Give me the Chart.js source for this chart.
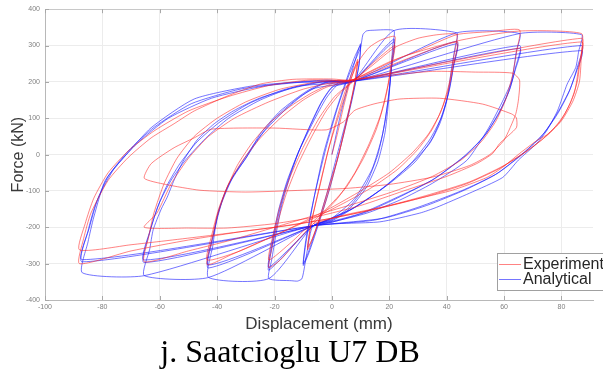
<!DOCTYPE html>
<html>
<head>
<meta charset="utf-8">
<script src="https://cdn.jsdelivr.net/npm/chart.js@4.4.1/dist/chart.umd.min.js"></script>
<style>
  html, body { margin: 0; padding: 0; background: #fff; }
  #wrap { width: 603px; height: 378px; position: relative; }
</style>
</head>
<body>
<div id="wrap"><canvas id="c" width="603" height="378"></canvas></div>
<script>
// ---- DATA (displacement mm, force kN) ----
const seriesNames = ['Experimental', 'Analytical'];
const caption = 'j. Saatcioglu U7 DB';
const xTitle = 'Displacement (mm)';
const yTitle = 'Force (kN)';

// Analytical (blue) path, by amplitude
const ana10 = [[0,0],[3,110],[6,200],[8.5,270],[10,305],
  [9.5,250],[7,150],[3,20],[-1,-100],[-5,-200],[-8,-270],[-10,-305],
  [-9,-240],[-6.5,-130],[-3,0],[1,110],[5,205],[8,270],[10,300],
  [9.3,240],[6.5,140],[2.5,20],[-1.5,-100],[-5.5,-205],[-8.5,-275],[-10,-300],
  [-9,-230],[-6,-110],[-2,20],[2,130],[6,220],[10,295]];
const ana22 = [[10.8,330],[12,340],[14,342],[21.6,341],
  [21.2,300],[20.6,230],[19.8,150],[18.5,60],[16,-20],[12,-90],[6,-150],[0,-180],[-6.6,-196],
  [-8.5,-260],[-9.8,-320],[-10.5,-342],[-12,-348],[-14,-347],[-22,-341],
  [-21,-290],[-19.5,-220],[-17.5,-140],[-15,-70],[-11.5,10],[-7.5,80],[-3.5,145],[0,185],[3,200],[7.4,202],
  [21.6,318],
  [21,260],[20,180],[18.5,90],[16,0],[12,-80],[6,-145],[0,-178],[-6.6,-196],
  [-22,-318],
  [-21,-260],[-19,-180],[-16.5,-100],[-13,-20],[-8.5,65],[-4,140],[0,185],[7.4,202],
  [21.6,310],
  [20.8,240],[19.6,150],[17.5,50],[14,-40],[8,-120],[0,-175],[-6.6,-196],
  [-22,-310],
  [-20.8,-240],[-18.5,-150],[-15.5,-70],[-11.5,10],[-6.5,90],[-2,155],[2,192],[7.4,202]];
const ana43 = [[21.6,341],[43.5,335],
  [42.8,290],[41.7,237],[40,147],[37.6,85],[34,30],[27,-30],[16.7,-98],[6.3,-153],[0,-182],[-6.6,-196],
  [-22,-341],[-43,-338],
  [-41.5,-250],[-40,-172],[-37.5,-110],[-34.5,-60],[-30,-10],[-25,57],[-18,120],[-8.7,175],[-1.7,200],[7.4,202],
  [43.5,312],
  [42.5,250],[41,180],[38.5,110],[35,45],[29,-20],[20,-80],[8,-145],[-6.6,-196],
  [-43,-312],
  [-41.5,-230],[-39.5,-155],[-36.5,-90],[-32.5,-35],[-27,30],[-20,100],[-11,160],[-2,198],[7.4,202],
  [43.5,305],
  [42.3,240],[40.5,165],[38,100],[34,40],[28,-20],[19,-85],[7,-150],[-6.6,-196],
  [-43,-304],
  [-41,-210],[-38.5,-135],[-35,-70],[-30,-10],[-24,60],[-16,125],[-7,180],[7.4,202]];
const ana65 = [[43.5,335],[65.4,333],
  [64.3,284],[62.6,202],[59.5,147],[56,93],[54,65],[47,-16],[35,-79],[23.7,-125],[12.2,-161],[0.3,-185],[-6.6,-196],
  [-43,-338],[-65.4,-333],
  [-63.5,-260],[-62.3,-207],[-59.5,-150],[-57.4,-117],[-55,-70],[-52,-20],[-47,40],[-41,85],[-34.4,120],[-25,156],[-13.6,183],[-1.7,202],[7.4,202],
  [65.4,300],
  [64,240],[62,180],[58.5,120],[54,60],[47,0],[36,-65],[24,-115],[12,-158],[0,-186],[-6.6,-196],
  [-65.4,-297],
  [-63.5,-215],[-61,-150],[-57.5,-85],[-53,-25],[-47,35],[-39,90],[-29,140],[-17,178],[-4,200],[7.4,202],
  [65.4,292],
  [63.8,230],[61.5,170],[58,110],[53,50],[46,-5],[35,-70],[22,-120],[10,-162],[-6.6,-196],
  [-65.4,-290],
  [-63,-200],[-60,-130],[-56,-70],[-51,-15],[-44,45],[-36,100],[-25,150],[-12,188],[7.4,202]];
const ana87 = [[65.4,333],[87,330],
  [86,284],[85,240],[82,194],[78.6,120],[74.8,65],[71.3,30],[65,-15],[59.5,-63],[48,-106],[36.5,-145],[30.6,-161],[16.7,-185],[-6.6,-196],
  [-65.4,-333],[-87,-325],
  [-85,-240],[-83,-172],[-79,-71],[-72,-3],[-63,74],[-48,153],[-28.5,188],[-12,200],[-1.7,205],[7.4,202],
  [87,300],
  [85.5,240],[83,180],[79,120],[74,60],[67,5],[58,-50],[47,-95],[33,-140],[18,-175],[-6.6,-196],
  [-87,-295],
  [-85,-210],[-82.5,-140],[-78,-60],[-71,10],[-62,75],[-49,140],[-32,180],[-14,198],[7.4,202],
  [87,286],
  [85.3,230],[82.5,170],[78.5,110],[73,50],[66,0],[57,-55],[45,-100],[30,-145],[15,-180],[-6.6,-196],
  [-87,-289],
  [-84.5,-200],[-81.5,-120],[-76,-40],[-68,30],[-57,100],[-42,155],[-24,188],[-6,202],[7.4,202]];

// Experimental (red) path, by amplitude
const exp10 = [[0,0],[2,60],[4,130],[6,190],[8,240],[9,262],
  [8,200],[6,120],[3,20],[0,-70],[-3,-150],[-6,-215],[-8.5,-262],
  [-7.5,-200],[-5,-110],[-2,-10],[1,80],[4,160],[7,225],[9,255],
  [7.5,180],[5,90],[2,-10],[-1.5,-100],[-4.5,-180],[-7,-235],[-8.5,-255],
  [-7,-180],[-4,-80],[-1,20],[2.5,110],[5.5,185],[8,235],[10,265]];
const exp22 = [[13,295],[17,315],[22,325],
  [21,270],[19.5,190],[17,110],[13,30],[8,-50],[2,-120],[-4,-170],[-9,-210],[-14,-255],[-18,-290],[-22,-311],
  [-21,-260],[-19,-190],[-16,-110],[-12,-30],[-7,50],[-2,120],[3,170],[8,205],[14,250],[20,290],[22,300],
  [20.5,230],[18.5,150],[15.5,70],[11,-10],[5,-90],[-2,-150],[-8,-195],[-14,-240],[-22,-290],
  [-20.5,-220],[-18,-140],[-14.5,-60],[-10,20],[-4.5,100],[1,160],[7,200],[14,245],[22,295]];
const exp43 = [[30,320],[37,330],[43.5,330],
  [42.5,270],[41,200],[38.5,130],[35,70],[30,15],[23,-40],[14,-90],[5,-130],[-5,-170],[-15,-205],[-25,-240],[-35,-275],[-43.5,-303],
  [-42,-240],[-40,-170],[-37,-100],[-33,-30],[-28,30],[-22,85],[-15,130],[-7,170],[0,195],[7,205],
  [43.5,310],
  [42.3,245],[40.5,175],[37.5,110],[33.5,55],[28,5],[20,-50],[10,-100],[0,-145],[-10,-185],[-22,-230],[-33,-268],[-43.5,-290],
  [-42,-225],[-39.5,-150],[-36,-80],[-31,-15],[-25,45],[-18,100],[-10,150],[-2,185],[7,205]];
const exp65 = [[20,255],[30,285],[43.5,330],[55,338],[65.4,343],
  [64.5,290],[63,220],[60.5,150],[57,90],[52,35],[45,-15],[35,-60],[22,-100],[8,-135],[-5,-165],[-20,-200],[-35,-235],[-50,-265],[-65.4,-295],
  [-64,-230],[-62,-160],[-58.5,-80],[-54,-10],[-48,50],[-40,100],[-30,145],[-18,180],[-5,200],[7,205],
  [20,218],[35,229],[50,227],[63,224],[65.4,205],[65,150],[64,110],
  [60,40],[55,0],[48,-30],[35,-62],[20,-82],[5,-93],[-10,-98],[-30,-103],[-46,-98],[-58,-82],[-65.4,-65],
  [-63,-25],[-55,19],[-48,46],[-42,70],[-20,73],[-2,68],[4,90],[8,122],[15,140],[23.7,153],[37.6,155],[52.5,139],[62.6,112],[64.3,101],
  [64.3,74],[58.4,30],[56,3],[50.4,-25],[40,-60],[25,-100],[10,-140],[-5,-170],[-20,-190],[-36.5,-202],[-50,-202],[-65.4,-200],
  [-61,-161],[-56,-80],[-50,-10],[-43,50],[-34,100],[-22,145],[-10,180],[0,198],[7,205]];
const exp87 = [[25,270],[45,315],[65.4,340],[87,333],
  [87,284],[86.3,202],[84,147],[80,93],[75,55],[71.3,38],[65.4,3],[59.5,-35],[54,-63],[42,-98],[30.6,-120],[15,-150],[0,-175],[-15,-195],[-30,-210],[-50,-235],[-70,-265],[-88,-300],
  [-86.5,-230],[-84,-161],[-78,-71],[-71,-8],[-63,46],[-55,85],[-48,120],[-36.5,161],[-25,194],[-13.6,207],[0,208],[7,205],
  [87,320],
  [86.5,260],[85.5,200],[83,140],[79,85],[73,40],[66,0],[58,-40],[47,-80],[33,-115],[18,-145],[0,-175],[-20,-200],[-45,-225],[-70,-248],[-88,-262],
  [-86,-190],[-83,-120],[-78,-50],[-71,10],[-62,65],[-50,120],[-36,160],[-22,190],[-8,205],[7,205],
  [87,310],
  [86,240],[84.5,170],[81,110],[76,60],[69,15],[60,-30],[48,-75],[34,-110],[20,-140],[5,-165],[-6.6,-190]];

const analyticalPath = [].concat(ana10, ana22, ana43, ana65, ana87);
const experimentalPath = [].concat(exp10, exp22, exp43, exp65, exp87);

const redLine = 'rgba(255,30,30,0.55)';
const blueLine = 'rgba(25,25,255,0.6)';

const toPts = arr => arr.map(p => ({x: p[0], y: p[1]}));

// inward tick marks (MATLAB style), in-plot legend and caption
const decorations = {
  id: 'decorations',
  afterDraw(chart) {
    const ctx = chart.ctx;
    const a = chart.chartArea;
    const xs = chart.scales.x, ys = chart.scales.y;
    ctx.save();
    ctx.strokeStyle = '#a8a8a8';
    ctx.lineWidth = 1;
    ctx.beginPath();
    xs.ticks.forEach(t => {
      const px = Math.round(xs.getPixelForValue(t.value)) + 0.5;
      ctx.moveTo(px, a.bottom); ctx.lineTo(px, a.bottom - 4);
      ctx.moveTo(px, a.top); ctx.lineTo(px, a.top + 4);
    });
    ys.ticks.forEach(t => {
      const py = Math.round(ys.getPixelForValue(t.value)) + 0.5;
      ctx.moveTo(a.left, py); ctx.lineTo(a.left + 4, py);
    });
    ctx.stroke();

    // legend box
    const x0 = 497, y0 = 253, h = 37;
    ctx.fillStyle = '#fff';
    ctx.fillRect(x0, y0, 140, h);
    ctx.strokeStyle = '#a0a0a0';
    ctx.strokeRect(x0 + 0.5, y0 + 0.5, 140, h);
    const rows = [264, 279];
    chart.data.datasets.forEach((ds, i) => {
      const y = rows[i];
      ctx.strokeStyle = ds.borderColor;
      ctx.beginPath();
      ctx.moveTo(x0 + 2, y + 0.5);
      ctx.lineTo(x0 + 24, y + 0.5);
      ctx.stroke();
      ctx.fillStyle = '#262626';
      ctx.font = '16px "Liberation Sans", Arial, sans-serif';
      ctx.textBaseline = 'middle';
      ctx.textAlign = 'left';
      ctx.fillText(ds.label, x0 + 26, y + 1);
    });
    // caption
    ctx.fillStyle = '#000';
    ctx.font = '32px "Liberation Serif", "Times New Roman", serif';
    ctx.textAlign = 'center';
    ctx.textBaseline = 'alphabetic';
    ctx.fillText(caption, 290, 362);
    ctx.restore();
  }
};

new Chart(document.getElementById('c'), {
  type: 'scatter',
  data: {
    datasets: [
      { label: seriesNames[0], data: toPts(experimentalPath), showLine: true, borderColor: redLine,
        borderWidth: 1, pointRadius: 0, tension: 0.2, fill: false },
      { label: seriesNames[1], data: toPts(analyticalPath), showLine: true, borderColor: blueLine,
        borderWidth: 1, pointRadius: 0, tension: 0.2, fill: false }
    ]
  },
  options: {
    responsive: false,
    animation: false,
    devicePixelRatio: 1,
    layout: { padding: { top: 6, right: 10, left: 0, bottom: 0 } },
    plugins: { legend: { display: false }, tooltip: { enabled: false } },
    scales: {
      x: {
        type: 'linear', min: -100, max: 91,
        afterFit(s) { s.height = 78; },
        ticks: { stepSize: 20, includeBounds: false, color: '#808080', padding: 3,
          font: { size: 7, family: '"Liberation Sans", Arial, sans-serif' } },
        grid: { color: '#ececec', drawTicks: false },
        border: { color: '#b8b8b8' },
        title: { display: true, text: xTitle, color: '#3a3a3a',
          font: { size: 17, family: '"Liberation Sans", Arial, sans-serif' },
          padding: { top: 0, bottom: 43 } }
      },
      y: {
        type: 'linear', min: -400, max: 400,
        afterFit(s) { s.width = 45; },
        ticks: { stepSize: 100, color: '#808080', padding: 5,
          font: { size: 7, family: '"Liberation Sans", Arial, sans-serif' } },
        grid: { color: ctx => ctx.tick && ctx.tick.value === 400 ? '#c8c8c8' : '#ececec', drawTicks: false },
        border: { color: '#b8b8b8' },
        title: { display: true, text: yTitle, color: '#3a3a3a',
          font: { size: 16, family: '"Liberation Sans", Arial, sans-serif' },
          padding: { top: 9, bottom: 0 } }
      }
    }
  },
  plugins: [decorations]
});
</script>
</body>
</html>
